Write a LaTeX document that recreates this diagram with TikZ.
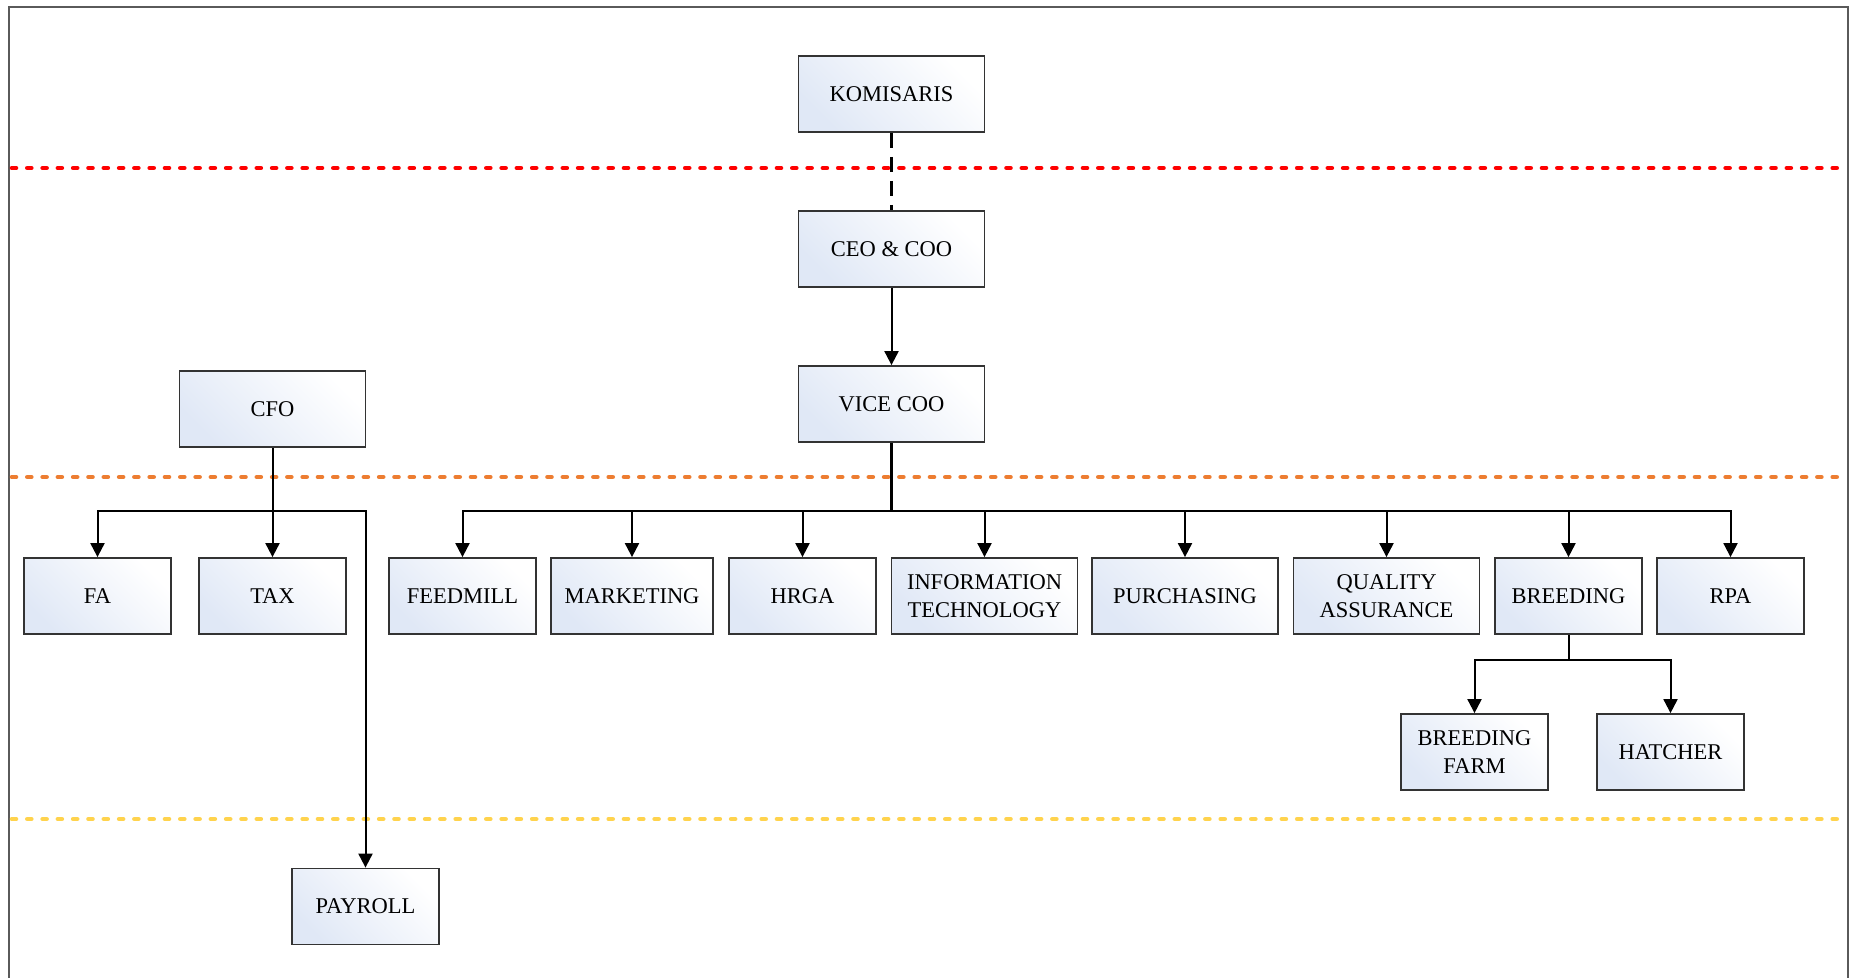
\documentclass[tikz,border=0pt]{standalone}
\usepackage{fontspec}
\setmainfont{Liberation Serif}
\usetikzlibrary{arrows.meta,shadings}
\definecolor{boxedge}{HTML}{333333}
\definecolor{boxfill}{HTML}{E0E8F6}
\definecolor{sepred}{HTML}{FF0000}
\definecolor{seporange}{HTML}{ED7D31}
\definecolor{sepyellow}{HTML}{FFD34D}
\definecolor{frame}{HTML}{5A5A5A}
\tikzset{
  orgbox/.style={draw=boxedge, line width=1.8pt, left color=boxfill, right color=white,
    shading angle=135, minimum height=76pt, inner sep=2pt, align=center,
    font=\fontsize{22.5}{28}\selectfont, text=black},
  narrow/.style={orgbox, minimum width=147pt},
  wide/.style={orgbox, minimum width=186pt},
  conn/.style={draw=black, line width=2pt},
  arr/.style={conn, -{Triangle[length=14pt,width=14pt]}},
  sep/.style={line width=4.6pt, line cap=round, dash pattern=on 4pt off 11.3pt},
}
\begin{document}
\begin{tikzpicture}[x=1pt,y=-1pt]
\useasboundingbox (0,0) rectangle (1859,977);
\fill[white] (0,0) rectangle (1859,977);
% frame
\draw[frame, line width=1.6pt] (9,990) -- (9,7) -- (1848,7) -- (1848,990);
% separators
\draw[sep, sepred] (12,168) -- (1843,168);
\draw[sep, seporange] (12,477) -- (1843,477);
\draw[sep, sepyellow] (12,819) -- (1843,819);
% nodes
\node[wide] (kom) at (891.5,94) {KOMISARIS};
\node[wide] (ceo) at (891.5,249) {CEO \& COO};
\node[wide] (vice) at (891.5,404) {VICE COO};
\node[wide] (cfo) at (272.5,409) {CFO};
\node[narrow] (fa) at (97.5,596) {FA};
\node[narrow] (tax) at (272.5,596) {TAX};
\node[narrow] (feed) at (462.5,596) {FEEDMILL};
\node[orgbox, minimum width=162pt] (mkt) at (632,596) {MARKETING};
\node[narrow] (hrga) at (802.5,596) {HRGA};
\node[wide] (it) at (984.5,596) {INFORMATION\\TECHNOLOGY};
\node[wide] (pur) at (1185,596) {PURCHASING};
\node[wide] (qa) at (1386.5,596) {QUALITY\\ASSURANCE};
\node[narrow] (breed) at (1568.5,596) {BREEDING};
\node[narrow] (rpa) at (1730.5,596) {RPA};
\node[narrow] (bfarm) at (1474.5,752) {BREEDING\\FARM};
\node[narrow] (hatch) at (1670.5,752) {HATCHER};
\node[narrow] (pay) at (365.5,906.5) {PAYROLL};
% bus points
\coordinate (bus) at (891.5,511);
\coordinate (cbus) at (272.5,511);
\coordinate (bbus) at (1568.5,660);
% connectors
\draw[conn, line width=2.2pt, dash pattern=on 15pt off 9pt] (kom.south) -- (ceo.north);
\draw[arr] (ceo.south) -- (vice.north);
\draw[conn, line width=2.8pt] (vice.south) -- (bus);
\foreach \c in {feed,mkt,hrga,it,pur,qa,breed,rpa}{
  \draw[arr] (bus) -| (\c.north);
}
\draw[arr] (cfo.south) -- (tax.north);
\draw[arr] (cbus) -| (fa.north);
\draw[arr] (cbus) -| (pay.north);
\draw[conn] (breed.south) -- (bbus);
\draw[arr] (bbus) -| (bfarm.north);
\draw[arr] (bbus) -| (hatch.north);
\end{tikzpicture}
\end{document}
